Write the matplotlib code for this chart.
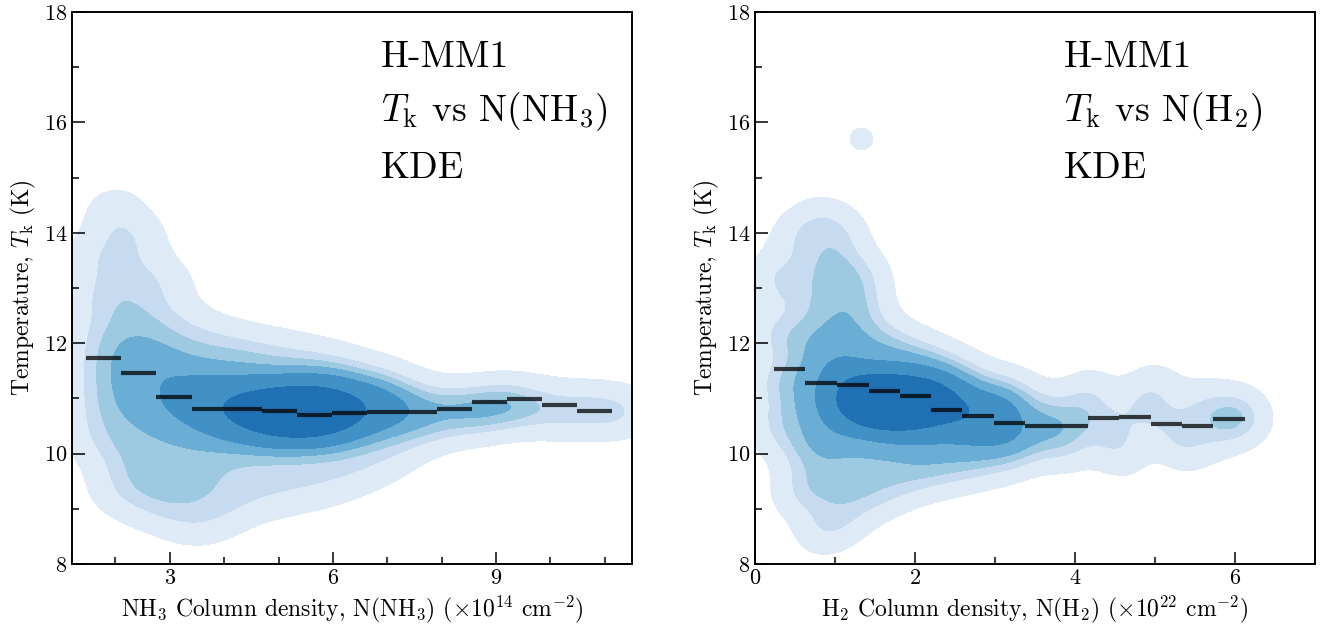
import numpy as np
import matplotlib
matplotlib.use("Agg")
import matplotlib.pyplot as plt

plt.rcParams['font.family'] = 'serif'
plt.rcParams['font.serif'] = ['cmr10']
plt.rcParams['mathtext.fontset'] = 'cm'
plt.rcParams['axes.formatter.use_mathtext'] = True

# ---- left panel: Tk vs N(NH3), sample points
nh3_col = ([1.5] * 6 + [2.0] * 12 + [2.5] * 11 + [3.0] * 10 + [3.5] * 9 + [4.0] * 9
           + [4.5] * 9 + [5.0] * 10 + [5.5] * 10 + [6.0] * 9 + [6.5] * 6 + [7.0] * 5
           + [7.5] * 3 + [8.0] * 2
           + [8.4, 8.6, 8.75, 9.1, 9.2, 9.45, 9.8, 10.15, 10.5, 10.85, 11.2, 11.5])
nh3_tk = [10.3, 10.9, 11.5, 12.1, 12.8, 13.5,
          9.3, 9.8, 10.3, 10.8, 11.2, 11.6, 12.0, 12.5, 13.0, 13.6, 14.1, 14.5,
          9.1, 9.6, 10.1, 10.6, 11.0, 11.4, 11.75, 12.1, 12.6, 13.2, 13.9,
          8.9, 9.4, 9.9, 10.4, 10.8, 11.1, 11.5, 11.8, 12.4, 13.1,
          8.7, 9.3, 9.8, 10.3, 10.7, 10.95, 11.25, 11.6, 12.2,
          8.9, 9.5, 10.1, 10.5, 10.75, 10.9, 11.1, 11.5, 12.0,
          9.2, 9.9, 10.4, 10.65, 10.75, 10.85, 11.0, 11.4, 11.9,
          9.3, 10.0, 10.45, 10.6, 10.7, 10.75, 10.85, 10.95, 11.25, 11.8,
          9.4, 10.1, 10.5, 10.6, 10.7, 10.75, 10.85, 10.95, 11.2, 11.7,
          9.5, 10.2, 10.5, 10.65, 10.75, 10.85, 10.95, 11.2, 11.6,
          9.7, 10.4, 10.65, 10.8, 11.0, 11.4,
          9.9, 10.5, 10.8, 11.0, 11.3,
          10.3, 10.7, 11.0,
          10.5, 10.9,
          10.8, 10.85, 10.6, 11.0, 10.9, 10.75, 10.95, 10.65, 10.9, 10.7, 10.85, 10.7]

# binned medians (left panel)
nh3_edges = [1.46, 2.105, 2.75, 3.40, 4.04, 4.69, 5.33, 5.98, 6.62, 7.27, 7.91,
             8.56, 9.20, 9.85, 10.49, 11.14]
nh3_med = [11.73, 11.46, 11.03, 10.80, 10.80, 10.78, 10.70, 10.73, 10.75, 10.76,
           10.80, 10.93, 10.98, 10.88, 10.77]

# ---- right panel: Tk vs N(H2)
h2_col = ([0.2] * 4 + [0.5] * 7 + [0.8] * 10 + [1.1] * 11 + [1.4] * 10 + [1.7] * 8
          + [2.0] * 7 + [2.3] * 6 + [2.6] * 5 + [2.9] * 4 + [3.2] * 4
          + [3.45, 3.6, 3.75, 3.9, 4.05, 4.2, 4.4, 4.6, 4.8, 5.0, 5.2, 5.4, 5.6,
             5.8, 6.0, 6.15])
h2_tk = [10.5, 11.3, 12.2, 13.2,
         9.3, 10.1, 10.8, 11.4, 12.1, 13.0, 13.9,
         8.6, 9.4, 10.0, 10.5, 11.0, 11.5, 12.0, 12.6, 13.4, 14.2,
         8.8, 9.5, 10.2, 10.7, 11.0, 11.3, 11.7, 12.2, 12.8, 13.4, 14.0,
         9.2, 9.9, 10.5, 10.85, 10.95, 11.05, 11.4, 12.0, 12.6, 13.2,
         9.4, 10.1, 10.6, 10.85, 10.95, 11.05, 11.45, 12.0,
         9.6, 10.2, 10.6, 10.9, 11.0, 11.3, 11.8,
         9.7, 10.3, 10.7, 10.95, 11.2, 11.6,
         9.8, 10.35, 10.7, 11.0, 11.4,
         9.9, 10.4, 10.7, 11.1,
         10.0, 10.45, 10.8, 11.1,
         10.2, 10.8, 10.45, 10.1, 10.7, 11.1, 10.4, 10.0, 10.8, 11.2, 10.5, 10.1,
         10.9, 10.4, 10.8, 10.6]
# single warm pixel standing apart from the rest
h2_outlier = (1.33, 15.7, 0.7)

h2_edges = [0.24, 0.63, 1.03, 1.42, 1.81, 2.20, 2.59, 2.99, 3.38, 3.77, 4.16,
            4.55, 4.95, 5.34, 5.73, 6.12]
h2_med = [11.53, 11.28, 11.24, 11.13, 11.05, 10.79, 10.69, 10.55, 10.50, 10.50,
          10.65, 10.66, 10.53, 10.50, 10.62]

band_colors = [plt.cm.Blues(f) for f in (0.125, 0.25, 0.375, 0.5, 0.625, 0.75)]
props = [0.05, 0.208, 0.367, 0.525, 0.683, 0.842]


def kde_grid(xs, ys, ws, bx, by, xr, yr):
    gx = np.linspace(xr[0], xr[1], 300)
    gy = np.linspace(yr[0], yr[1], 300)
    X, Y = np.meshgrid(gx, gy)
    Z = np.zeros_like(X)
    for x, y, w in zip(xs, ys, ws):
        Z += w * np.exp(-0.5 * (((X - x) / bx) ** 2 + ((Y - y) / by) ** 2))
    return X, Y, Z


def prop_levels(Z):
    vals = np.sort(Z.ravel())
    cum = np.cumsum(vals)
    cum /= cum[-1]
    lev = [vals[np.searchsorted(cum, p)] for p in props]
    return lev + [Z.max() * 1.01]


def panel(ax, xs, ys, ws, bx, by, xr, edges, med):
    X, Y, Z = kde_grid(xs, ys, ws, bx, by, xr, (6, 19))
    ax.contourf(X, Y, Z, levels=prop_levels(Z), colors=band_colors)
    ax.hlines(med, edges[:-1], edges[1:], colors='k', lw=3, alpha=0.75)
    ax.set_ylim(8, 18)
    ax.set_yticks([8, 10, 12, 14, 16, 18])
    ax.yaxis.set_minor_locator(plt.MultipleLocator(1))
    ax.xaxis.set_minor_locator(plt.MultipleLocator(1))
    ax.tick_params(which='both', direction='in', width=1.1, labelsize=16)
    ax.tick_params(which='major', length=9)
    ax.tick_params(which='minor', length=5)
    for s in ax.spines.values():
        s.set_linewidth(1.4)
    ax.set_ylabel(r'Temperature, $T_\mathrm{k}$ (K)', fontsize=17)


fig = plt.figure(figsize=(13.26, 6.31), dpi=100)
ax1 = fig.add_axes([0.0543, 0.1062, 0.4223, 0.8748])
ax2 = fig.add_axes([0.5694, 0.1062, 0.4223, 0.8748])

panel(ax1, nh3_col, nh3_tk, [1] * len(nh3_col), 0.45, 0.35, (0, 13), nh3_edges, nh3_med)
ax1.set_xlim(1.2, 11.5)
ax1.set_xticks([3, 6, 9])
ax1.set_xlabel(r'NH$_3$ Column density, N(NH$_3$) ($\times10^{14}$ cm$^{-2}$)', fontsize=17)

panel(ax2, h2_col + [h2_outlier[0]], h2_tk + [h2_outlier[1]],
      [1] * len(h2_col) + [h2_outlier[2]], 0.25, 0.35, (-1.5, 8), h2_edges, h2_med)
ax2.set_xlim(0, 7)
ax2.set_xticks([0, 2, 4, 6])
ax2.set_xlabel(r'H$_2$ Column density, N(H$_2$) ($\times10^{22}$ cm$^{-2}$)', fontsize=17)

for ax, lab in ((ax1, r'$T_\mathrm{k}$ vs N(NH$_3$)'), (ax2, r'$T_\mathrm{k}$ vs N(H$_2$)')):
    ax.text(0.552, 0.900, 'H-MM1', transform=ax.transAxes, fontsize=27, va='baseline')
    ax.text(0.552, 0.8025, lab, transform=ax.transAxes, fontsize=27, va='baseline')
    ax.text(0.552, 0.700, 'KDE', transform=ax.transAxes, fontsize=27, va='baseline')

fig.savefig('out.png', dpi=100)
